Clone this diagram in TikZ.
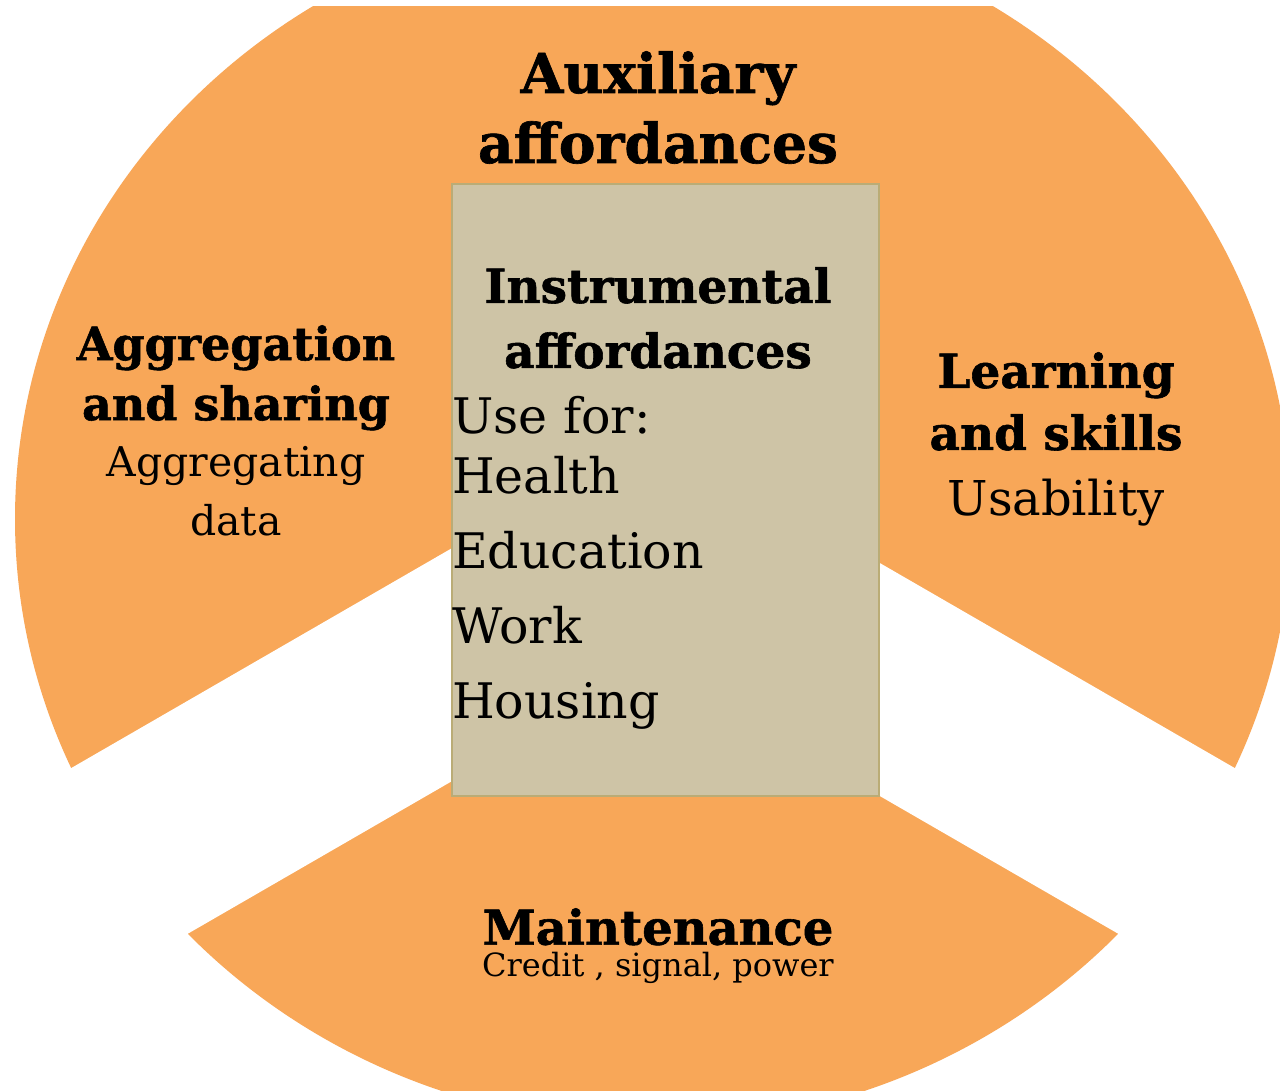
\documentclass[tikz,border=0pt]{standalone}
\usepackage{fontspec}
\setmainfont{DejaVu Serif}[BoldFeatures={FakeBold=1.2}]
\usetikzlibrary{positioning}
\definecolor{petal}{RGB}{248,167,88}
\definecolor{panelfill}{RGB}{206,196,166}
\definecolor{paneledge}{RGB}{186,172,118}
\newcommand{\petalhead}[2]{\bfseries\fontsize{#1}{#2}\selectfont}
\newcommand{\petalbody}[2]{\fontsize{#1}{#2}\selectfont}
\tikzstyle{panel} = [rectangle, draw=paneledge, line width=1.5pt, fill=panelfill, minimum width=427pt, minimum height=612pt, inner sep=0pt]
\tikzstyle{heading} = [align=center, inner sep=0pt, anchor=north]
\tikzstyle{subtext} = [align=center, inner sep=0pt]
\tikzstyle{listing} = [align=left, inner sep=0pt, anchor=north west]

\begin{document}
\begin{tikzpicture}[x=1pt, y=-1pt]
\useasboundingbox (0,0) rectangle (1280,1090);
\fill[white] (0,0) rectangle (1280,1090);
% segmented disc
\begin{scope}
\clip (0,6) rectangle (1280,1090);
\fill[petal] (653,519) ellipse [x radius=638, y radius=606];
\coordinate (hubtop) at (653,432);
\coordinate (hubbot) at (653,665);
\fill[white] (hubtop) -- ++(-779,450) -- ++(0,233) -- (hubbot) -- cycle;
\fill[white] (hubtop) -- ++(779,450) -- ++(0,233) -- (hubbot) -- cycle;
\end{scope}
% centre panel
\node (panel) [panel] at (665.5,490) {};
\node (auxtitle) [heading, font=\petalhead{55}{70}] at (658,51) {Auxiliary\\affordances};
\node (instrtitle) [heading, font=\petalhead{47}{65}] at (658,267) {Instrumental\\affordances};
\node (uselist) [listing, font=\petalbody{49}{75}] at (452,396) {Use for:\\[-15pt]Health\\Education\\Work\\Housing};
% side labels
\node (aggtitle) [heading, font=\petalhead{46}{60}] at (236,325) {Aggregation\\and sharing};
\node (aggsub) [subtext, font=\petalbody{41}{59}, below=16pt of aggtitle] {Aggregating\\data};
\node (learntitle) [heading, font=\petalhead{47}{62}] at (1056,352) {Learning\\and skills};
\node (learnsub) [subtext, font=\petalbody{48}{58}, below=28pt of learntitle] {Usability};
\node (maintitle) [heading, font=\petalhead{48}{58}] at (658,908) {Maintenance};
\node (mainsub) [subtext, font=\petalbody{32}{38}, below=6pt of maintitle] {Credit , signal, power};
\end{tikzpicture}
\end{document}
